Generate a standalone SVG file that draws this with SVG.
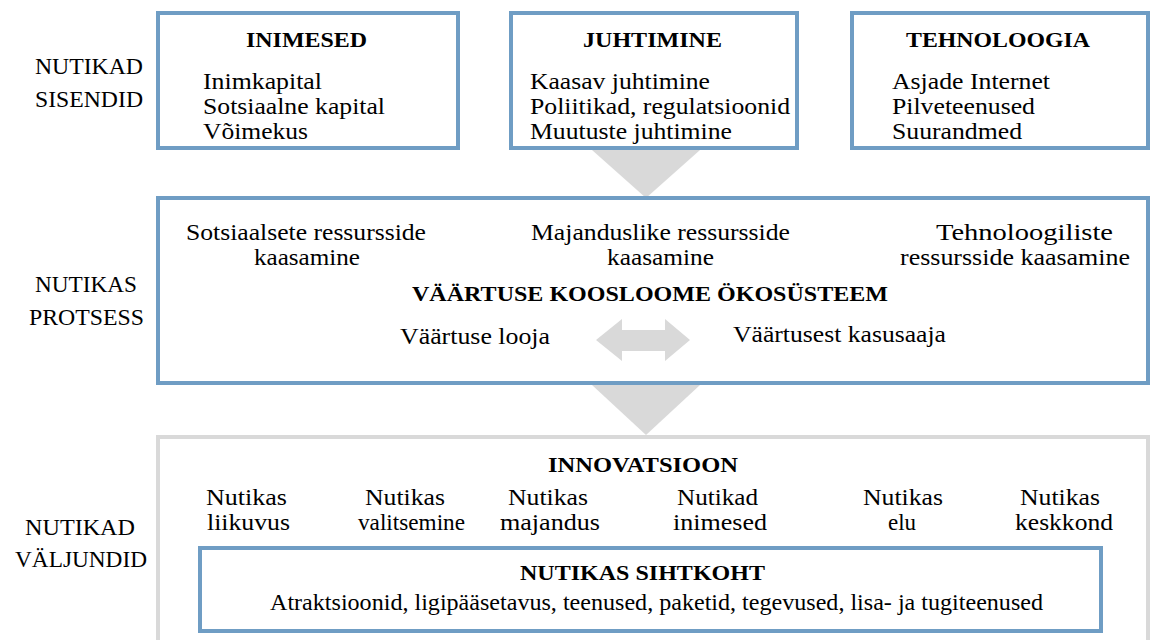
<svg xmlns="http://www.w3.org/2000/svg" width="1152" height="640" viewBox="0 0 1152 640">
<style>
text{font-family:"Liberation Serif","DejaVu Serif","Noto Serif","FreeSerif","Nimbus Roman",Times,serif;font-weight:normal;fill:#000;font-size:23px}
.b{font-weight:bold;font-size:21px}
.c{text-anchor:middle}
.blue{fill:#fff;stroke:#6f9dc4;stroke-width:4}
.gray{fill:#fff;stroke:#d9d9d9;stroke-width:4}
.arr{fill:#d9d9d9}
</style>
<rect width="1152" height="640" fill="#fff"/>
<g id="labels">
<text x="35" y="74" textLength="108" lengthAdjust="spacingAndGlyphs">NUTIKAD</text>
<text x="35" y="107" textLength="108" lengthAdjust="spacingAndGlyphs">SISENDID</text>
<text x="35" y="292" textLength="102" lengthAdjust="spacingAndGlyphs">NUTIKAS</text>
<text x="29" y="325" textLength="115" lengthAdjust="spacingAndGlyphs">PROTSESS</text>
<text x="25" y="535" textLength="110" lengthAdjust="spacingAndGlyphs">NUTIKAD</text>
<text x="15" y="567" textLength="132" lengthAdjust="spacingAndGlyphs">VÄLJUNDID</text>
</g>
<g id="connectors">
<polygon class="arr" points="592,150 700,150 646,198"/>
<polygon class="arr" points="592,385 700,385 646,435"/>
</g>
<g id="inimesed">
<rect class="blue" x="158" y="13" width="300" height="135"/>
<text x="246" y="47" class="b" textLength="121" lengthAdjust="spacingAndGlyphs">INIMESED</text>
<text x="203" y="89" textLength="119" lengthAdjust="spacingAndGlyphs">Inimkapital</text>
<text x="203" y="114" textLength="182" lengthAdjust="spacingAndGlyphs">Sotsiaalne kapital</text>
<text x="203" y="139" textLength="105" lengthAdjust="spacingAndGlyphs">Võimekus</text>
</g>
<g id="juhtimine">
<rect class="blue" x="511" y="13" width="286" height="135"/>
<text x="583" y="47" class="b" textLength="139" lengthAdjust="spacingAndGlyphs">JUHTIMINE</text>
<text x="530" y="89" textLength="180" lengthAdjust="spacingAndGlyphs">Kaasav juhtimine</text>
<text x="530" y="114" textLength="260" lengthAdjust="spacingAndGlyphs">Poliitikad, regulatsioonid</text>
<text x="530" y="139" textLength="202" lengthAdjust="spacingAndGlyphs">Muutuste juhtimine</text>
</g>
<g id="tehnoloogia">
<rect class="blue" x="852" y="13" width="296" height="135"/>
<text x="906" y="47" class="b" textLength="184" lengthAdjust="spacingAndGlyphs">TEHNOLOOGIA</text>
<text x="892" y="89" textLength="158" lengthAdjust="spacingAndGlyphs">Asjade Internet</text>
<text x="892" y="114" textLength="143" lengthAdjust="spacingAndGlyphs">Pilveteenused</text>
<text x="892" y="139" textLength="130" lengthAdjust="spacingAndGlyphs">Suurandmed</text>
</g>
<g id="protsess">
<rect class="blue" x="158" y="198" width="990" height="185"/>
<text x="186" y="240" textLength="240" lengthAdjust="spacingAndGlyphs">Sotsiaalsete ressursside</text>
<text x="254" y="265" textLength="106" lengthAdjust="spacingAndGlyphs">kaasamine</text>
<text x="531" y="240" textLength="259" lengthAdjust="spacingAndGlyphs">Majanduslike ressursside</text>
<text x="607" y="265" textLength="107" lengthAdjust="spacingAndGlyphs">kaasamine</text>
<text x="936" y="240" textLength="177" lengthAdjust="spacingAndGlyphs">Tehnoloogiliste</text>
<text x="900" y="265" textLength="230" lengthAdjust="spacingAndGlyphs">ressursside kaasamine</text>
<text x="412" y="301" class="b" textLength="476" lengthAdjust="spacingAndGlyphs">VÄÄRTUSE KOOSLOOME ÖKOSÜSTEEM</text>
<text x="400" y="344" textLength="150" lengthAdjust="spacingAndGlyphs">Väärtuse looja</text>
<text x="733" y="342" textLength="213" lengthAdjust="spacingAndGlyphs">Väärtusest kasusaaja</text>
<polygon class="arr" points="596,340 622,319 622,330 665,330 665,319 690,340 665,361 665,351 622,351 622,361"/>
</g>
<g id="valjundid">
<rect class="gray" x="158" y="437" width="990" height="210"/>
<text x="548" y="472" class="b" textLength="190" lengthAdjust="spacingAndGlyphs">INNOVATSIOON</text>
<text x="206" y="505" textLength="81" lengthAdjust="spacingAndGlyphs">Nutikas</text>
<text x="207" y="530" textLength="83" lengthAdjust="spacingAndGlyphs">liikuvus</text>
<text x="365" y="505" textLength="80" lengthAdjust="spacingAndGlyphs">Nutikas</text>
<text x="358" y="530" textLength="107" lengthAdjust="spacingAndGlyphs">valitsemine</text>
<text x="508" y="505" textLength="80" lengthAdjust="spacingAndGlyphs">Nutikas</text>
<text x="500" y="530" textLength="100" lengthAdjust="spacingAndGlyphs">majandus</text>
<text x="677" y="505" textLength="81" lengthAdjust="spacingAndGlyphs">Nutikad</text>
<text x="673" y="530" textLength="94" lengthAdjust="spacingAndGlyphs">inimesed</text>
<text x="863" y="505" textLength="80" lengthAdjust="spacingAndGlyphs">Nutikas</text>
<text x="902" y="530" class="c">elu</text>
<text x="1020" y="505" textLength="80" lengthAdjust="spacingAndGlyphs">Nutikas</text>
<text x="1015" y="530" textLength="98" lengthAdjust="spacingAndGlyphs">keskkond</text>
</g>
<g id="sihtkoht">
<rect class="blue" x="200" y="548" width="901" height="83"/>
<text x="520" y="580" class="b" textLength="245" lengthAdjust="spacingAndGlyphs">NUTIKAS SIHTKOHT</text>
<text x="270" y="610" textLength="773" lengthAdjust="spacingAndGlyphs">Atraktsioonid, ligipääsetavus, teenused, paketid, tegevused, lisa- ja tugiteenused</text>
</g>
</svg>
